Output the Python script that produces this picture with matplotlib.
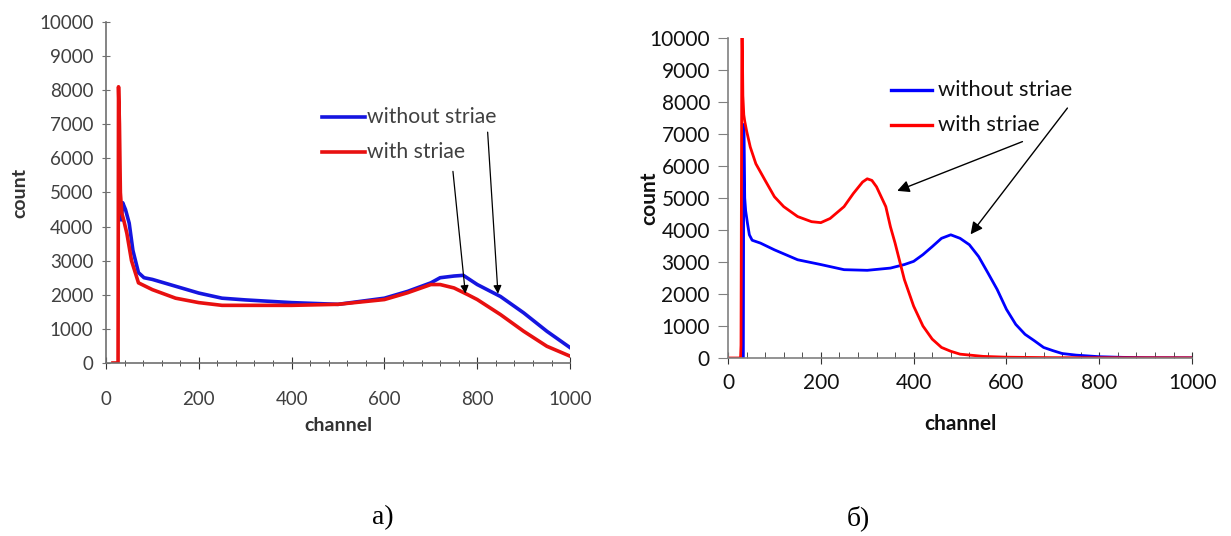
import matplotlib.pyplot as plt

# panel a)
a_blue_ch = [33, 36, 42, 50, 58, 70, 82, 100, 150, 200, 250, 300, 400, 500, 600, 650, 700,
             720, 750, 770, 800, 850, 900, 950, 1000]
a_blue_ct = [4200, 4700, 4500, 4100, 3300, 2650, 2500, 2450, 2250, 2050, 1900, 1850, 1770, 1720,
             1900, 2100, 2350, 2500, 2550, 2570, 2300, 1950, 1470, 930, 450]
a_red_ch = [15, 26, 27, 29, 31, 34, 38, 45, 55, 70, 100, 150, 200, 250, 300, 400, 500, 600, 650,
            700, 720, 750, 780, 800, 850, 900, 950, 1000]
a_red_ct = [0, 0, 8100, 7000, 5000, 4400, 4200, 3800, 3000, 2350, 2150, 1900, 1770, 1690, 1690,
            1690, 1720, 1860, 2060, 2300, 2300, 2200, 2000, 1860, 1420, 930, 490, 200]

# panel б)
b_blue_ch = [33, 34, 36, 38, 42, 46, 52, 70, 100, 150, 200, 250, 300, 350, 380, 400, 420, 440,
             460, 480, 500, 520, 540, 560, 580, 600, 620, 640, 660, 680, 700, 720, 750, 800, 850,
             900, 1000]
b_blue_ct = [0, 7300, 5000, 4600, 4200, 3850, 3680, 3590, 3380, 3070, 2920, 2760, 2740, 2810,
             2920, 3020, 3230, 3480, 3740, 3850, 3740, 3540, 3170, 2660, 2140, 1520, 1050, 740,
             540, 330, 230, 140, 90, 40, 20, 10, 5]
b_red_ch = [0, 27, 28, 30, 32, 34, 36, 40, 48, 60, 80, 100, 120, 150, 180, 200, 220, 250, 270,
            290, 300, 310, 320, 340, 350, 360, 380, 400, 420, 440, 460, 480, 500, 550, 600, 700,
            1000]
b_red_ct = [0, 0, 400, 11000, 8200, 7600, 7400, 7100, 6590, 6070, 5550, 5040, 4730, 4420, 4260,
            4230, 4360, 4730, 5140, 5500, 5600, 5550, 5350, 4730, 4100, 3590, 2450, 1620, 1000,
            590, 330, 210, 120, 50, 25, 10, 5]

BLUE = "#0000ff"
RED = "#ff0000"

fig = plt.figure(figsize=(12.31, 5.36), dpi=100)


def style_axes(ax, color, tcolor, fs, minor_dir, major_dir, ylen, xpad):
    ax.set_xlim(0, 1000)
    ax.set_ylim(0, 10000)
    for s in ("top", "right"):
        ax.spines[s].set_visible(False)
    for s in ("left", "bottom"):
        ax.spines[s].set_color(color)
        ax.spines[s].set_linewidth(1.2)
    ax.set_xticks(range(0, 1001, 200))
    ax.set_xticks(range(0, 1001, 40), minor=True)
    ax.set_yticks(range(0, 10001, 1000))
    ax.tick_params(axis="x", which="major", direction=major_dir, length=8, color="#333333",
                   labelsize=fs, labelcolor=tcolor, pad=xpad)
    ax.tick_params(axis="x", which="minor", direction=minor_dir, length=4, color="#333333")
    ax.tick_params(axis="y", which="major", direction=major_dir, length=ylen, color=color,
                   labelsize=fs, labelcolor=tcolor, pad=6)
    for lab in ax.get_xticklabels() + ax.get_yticklabels():
        lab.set_family("Lato")


# ---- panel a
ax1 = fig.add_axes([0.0861, 0.3228, 0.3770, 0.6362])
ax1.plot(a_blue_ch, a_blue_ct, color="#1515e0", lw=2.6)
ax1.plot(a_red_ch, a_red_ct, color="#e81010", lw=2.6)
style_axes(ax1, "#707070", "#404040", 13.5, "inout", "inout", 6, 16)
ax1.set_xlabel("channel", family="Lato", fontsize=14, fontweight="bold", color="#333333",
               labelpad=7)
ax1.set_ylabel("count", family="Lato", fontsize=14, fontweight="bold", color="#333333",
               labelpad=8)
ax1.plot([0.466, 0.558], [0.722, 0.722], transform=ax1.transAxes, color="#1515e0", lw=2.6)
ax1.plot([0.466, 0.558], [0.618, 0.618], transform=ax1.transAxes, color="#e81010", lw=2.6)
ax1.text(0.5625, 0.722, "without striae", transform=ax1.transAxes, va="center", ha="left",
         family="Lato", fontsize=15.2, color="#404040")
ax1.text(0.5625, 0.618, "with striae", transform=ax1.transAxes, va="center", ha="left",
         family="Lato", fontsize=15.2, color="#404040")
arw = dict(arrowstyle="-|>", color="black", lw=0.9, mutation_scale=12)
ax1.annotate("", xy=(845, 1950), xytext=(822, 6850), arrowprops=arw)
ax1.annotate("", xy=(775, 1950), xytext=(747, 5700), arrowprops=arw)

# ---- panel б
ax2 = fig.add_axes([0.5914, 0.3321, 0.3770, 0.5970])
ax2.plot(b_blue_ch, b_blue_ct, color=BLUE, lw=2.0)
ax2.plot(b_red_ch, b_red_ct, color=RED, lw=2.0)
style_axes(ax2, "#808080", "#111111", 15, "in", "inout", 7, 7)
ax2.tick_params(axis="y", which="major", direction="out")
ax2.set_xlabel("channel", family="Lato", fontsize=15, fontweight="bold", color="#111111",
               labelpad=15)
ax2.set_ylabel("count", family="Lato", fontsize=15, fontweight="bold", color="#111111",
               labelpad=-7)
ax2.plot([0.352, 0.439], [0.8376, 0.8376], transform=ax2.transAxes, color=BLUE, lw=2.4)
ax2.plot([0.352, 0.439], [0.729, 0.729], transform=ax2.transAxes, color=RED, lw=2.4)
ax2.text(0.453, 0.8376, "without striae", transform=ax2.transAxes, va="center", ha="left",
         family="Lato", fontsize=15.8, color="#111111")
ax2.text(0.453, 0.729, "with striae", transform=ax2.transAxes, va="center", ha="left",
         family="Lato", fontsize=15.8, color="#111111")
arw2 = dict(arrowstyle="-|>", color="black", lw=1.0, mutation_scale=18)
ax2.annotate("", xy=(359, 5191), xytext=(640, 6794), arrowprops=arw2)
ax2.annotate("", xy=(519, 3795), xytext=(735, 7880), arrowprops=arw2)

fig.text(383 / 1231, 1 - 518 / 536, "а)", family="Liberation Serif", fontsize=20,
         ha="center", va="center")
fig.text(858 / 1231, 1 - 518 / 536, "б)", family="Liberation Serif", fontsize=20,
         ha="center", va="center")

fig.savefig("out.png", dpi=100)
